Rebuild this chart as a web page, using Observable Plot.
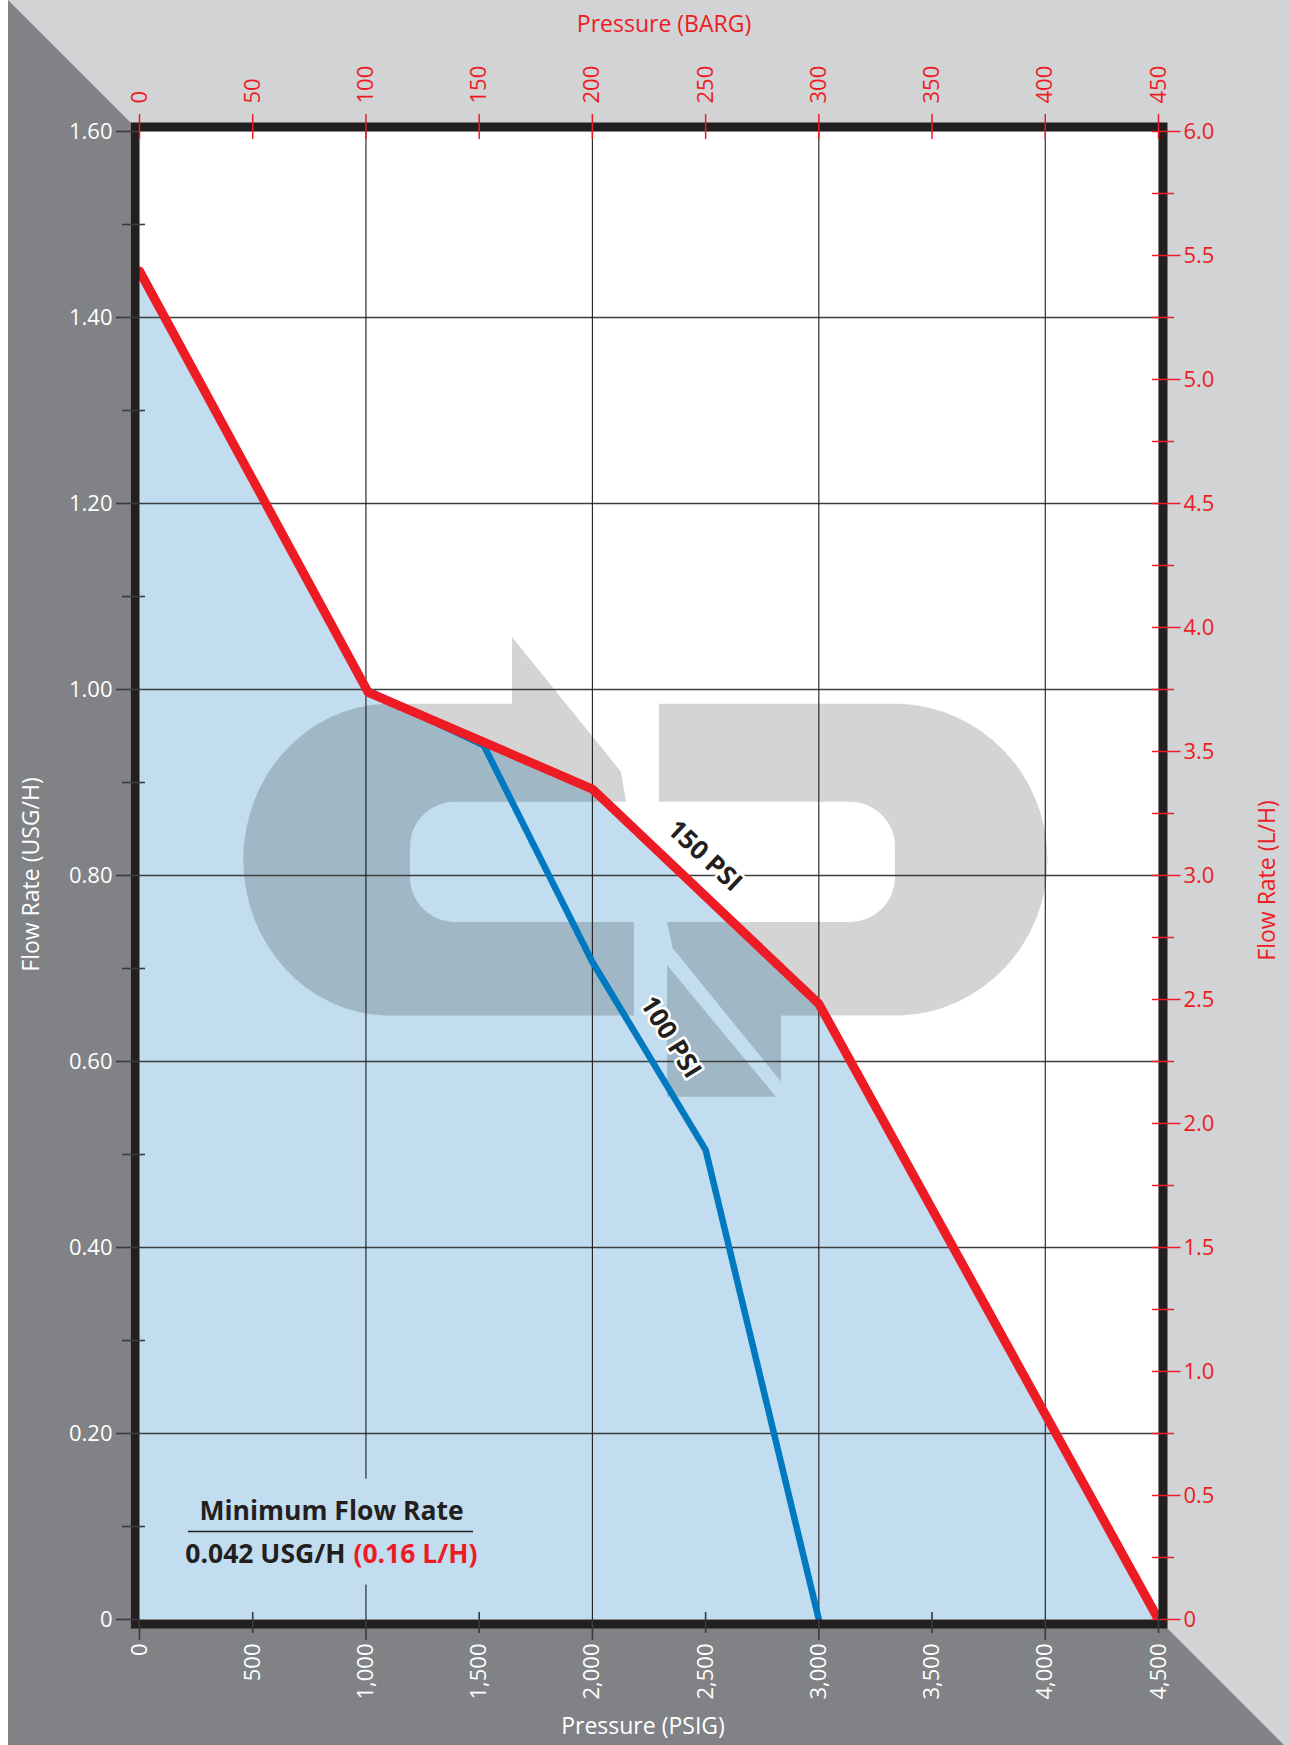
<!DOCTYPE html>
<html>
<head>
<meta charset="utf-8">
<script src="https://cdn.jsdelivr.net/npm/d3@7"></script>
<script src="https://cdn.jsdelivr.net/npm/@observablehq/plot@0.6"></script>
<style>
html, body { margin: 0; padding: 0; background: #fff; }
#chart svg { display: block; }
</style>
</head>
<body>
<div id="chart"></div>
<script>
// ---------------- data ----------------
const psi150 = [0, 1010, 2000, 3000, 4500];
const flow150 = [1.45, 0.997, 0.893, 0.662, 0];
const psi100 = [0, 1000, 1520, 2000, 2500, 3000];
const flow100 = [1.45, 1.0, 0.94, 0.707, 0.505, 0];

const psiTicks = [0, 500, 1000, 1500, 2000, 2500, 3000, 3500, 4000, 4500];
const psiGrid = [1000, 2000, 3000, 4000];
const bargTicks = [0, 50, 100, 150, 200, 250, 300, 350, 400, 450];
const usgTicks = [0, 0.2, 0.4, 0.6, 0.8, 1.0, 1.2, 1.4, 1.6];
const usgMinorTicks = [0.1, 0.3, 0.5, 0.7, 0.9, 1.1, 1.3, 1.5];
const usgGrid = [0.2, 0.4, 0.6, 0.8, 1.0, 1.2, 1.4];
const lphTicks = [0, 0.5, 1.0, 1.5, 2.0, 2.5, 3.0, 3.5, 4.0, 4.5, 5.0, 5.5, 6.0];
const lphMinorTicks = [0.25, 0.75, 1.25, 1.75, 2.25, 2.75, 3.25, 3.75, 4.25, 4.75, 5.25, 5.75];

const BARG_PER_PSI = 0.1;     // top axis: 450 BARG spans the same width as 4,500 PSIG
const LPH_PER_USGH = 3.75;    // right axis: 6.0 L/H spans the same height as 1.60 USG/H

const seriesLabels = ["150 PSI", "100 PSI"];
const labelPsi = [2495, 2345];
const labelFlow = [0.821, 0.626];
const labelAngle = [43, 58];

const minFlowTitle = "Minimum Flow Rate";
const minFlowUsg = "0.042 USG/H";
const minFlowLph = "(0.16 L/H)";

// ---------------- styles ----------------
const RED = "#ed1c24", BLUE = "#0079c1", AREA = "#c1ddef";
const DARK_BG = "#808285", LIGHT_BG = "#d1d3d4", INK = "#231f20", TICK = "#3a3a3a";
const FRAME_W = 9;

const red = psi150.map((p, i) => ({psi: p, flow: flow150[i]}));
const blue = psi100.map((p, i) => ({psi: p, flow: flow100[i]}));
const lineLabels = seriesLabels.map((t, i) => ({t, psi: labelPsi[i], flow: labelFlow[i], a: labelAngle[i]}));

// decorative background bevel (pixel layout, not data)
function bevel(index, scales, values, dim) {
  const {width, height, marginLeft, marginTop, marginRight, marginBottom} = dim;
  const L = marginLeft - FRAME_W, T = marginTop - FRAME_W;
  const R = width - marginRight + FRAME_W, B = height - marginBottom + FRAME_W;
  const g = d3.create("svg:g");
  g.append("rect").attr("width", width).attr("height", height).attr("fill", LIGHT_BG);
  g.append("path")
    .attr("d", `M${L - T},0L${L},${T}L${L},${B}L${R},${B}L${R + (height - B)},${height}L${L - T},${height}Z`)
    .attr("fill", DARK_BG);
  g.append("rect").attr("width", L - T).attr("height", height).attr("fill", "#fff");
  return g.node();
}

// decorative watermark logo
function logo() {
  const g = d3.create("svg:g").attr("fill", "#000").attr("fill-opacity", 0.17);
  g.append("path").attr("d",
    "M385,703.8L512,703.8L512,637L621,771.7L626,801.8L455,801.8A45,45,0,0,0,410,846.8L410,877A45,45,0,0,0,455,922L634,922L634,1015.6L385,1015.6A147,156,0,0,1,385,703.8Z");
  g.append("path").attr("d",
    "M659,703.8L900,703.8A153,156,0,0,1,900,1015.6L781,1015.6L781,1081.7L672.6,948L667,922L850,922A45,45,0,0,0,895,877L895,846.8A45,45,0,0,0,850,801.8L659,801.8Z");
  g.append("path").attr("d", "M667,965L667,1096.7L776,1096.7Z");
  return g.node();
}

const fmtUsg = d => d === 0 ? "0" : d.toFixed(2);
const fmtLph = d => { const v = d * LPH_PER_USGH; return Math.abs(v) < 1e-9 ? "0" : v.toFixed(1); };
const fmtPsi = d3.format(",");
const fmtBarg = d => String(Math.round(d * BARG_PER_PSI));

const psiMajor = psiTicks.filter(d => d % 1000 === 0 && d < 4500);
const psiOdd = psiTicks.filter(d => !(d % 1000 === 0 && d < 4500));

const chart = Plot.plot({
  width: 1289,
  height: 1745,
  marginLeft: 139,
  marginRight: 131,
  marginTop: 131,
  marginBottom: 126,
  x: {domain: [0, 4500]},
  y: {domain: [0, 1.6]},
  style: {fontFamily: "'Open Sans', sans-serif", fontSize: "22px", background: "none", overflow: "visible"},
  marks: [
    bevel,
    Plot.frame({fill: "#fff"}),
    Plot.areaY(red, {x: "psi", y: "flow", fill: AREA}),
    logo,
    Plot.ruleY(usgGrid, {stroke: "#3d3d3d", strokeWidth: 1.5}),
    Plot.ruleX(psiGrid, {stroke: "#1a1a1a", strokeWidth: 1.1}),
    Plot.rect([{}], {x1: 216, x2: 1475, y1: 0.037, y2: 0.151, fill: AREA}),
    Plot.line(blue, {x: "psi", y: "flow", stroke: BLUE, strokeWidth: 6.5, strokeLinejoin: "miter"}),
    Plot.line(red, {x: "psi", y: "flow", stroke: RED, strokeWidth: 9, strokeLinejoin: "miter"}),
    Plot.text(lineLabels, {x: "psi", y: "flow", text: "t", rotate: "a", fontWeight: "bold", fontSize: 26,
      fill: INK, stroke: "#fff", strokeWidth: 5}),
    // minimum flow annotation
    Plot.text([minFlowTitle], {x: () => 848, y: () => 0.116, text: d => d, fontWeight: "bold", fontSize: 26.5, fill: INK}),
    Plot.ruleY([0.0946], {x1: 216, x2: 1475, stroke: INK, strokeWidth: 1.6}),
    Plot.text([minFlowUsg], {x: () => 927, y: () => 0.07, text: d => d, textAnchor: "end", dx: -4, fontWeight: "bold", fontSize: 26.5, fill: INK}),
    Plot.text([minFlowLph], {x: () => 927, y: () => 0.07, text: d => d, textAnchor: "start", dx: 4, fontWeight: "bold", fontSize: 26.5, fill: RED}),
    // frame
    Plot.frame({stroke: INK, strokeWidth: FRAME_W, inset: -FRAME_W / 2}),
    // left axis (USG/H)
    Plot.axisY(usgTicks, {anchor: "left", tickSize: 23, fill: "none", stroke: TICK, strokeWidth: 1.6, label: null}),
    Plot.axisY(usgMinorTicks, {anchor: "left", tickSize: 23, dx: 6, fill: "none", stroke: TICK, strokeWidth: 1.6, label: null}),
    Plot.axisY(usgTicks, {anchor: "left", tickSize: 0, tickPadding: 27, tickFormat: fmtUsg, fill: "#fff", fontSize: 22, label: null}),
    // right axis (L/H)
    Plot.axisY(lphTicks.map(v => v / LPH_PER_USGH), {anchor: "right", tickSize: 28.5, dx: -7, fill: "none", stroke: RED, strokeWidth: 1.5, label: null}),
    Plot.axisY(lphMinorTicks.map(v => v / LPH_PER_USGH), {anchor: "right", tickSize: 22, dx: -7, fill: "none", stroke: RED, strokeWidth: 1.5, label: null}),
    Plot.axisY(lphTicks.map(v => v / LPH_PER_USGH), {anchor: "right", tickSize: 0, tickPadding: 25, tickFormat: fmtLph, fill: RED, fontSize: 22, label: null}),
    // bottom axis (PSIG)
    Plot.axisX(psiMajor, {anchor: "bottom", tickSize: 21, fill: "none", stroke: TICK, strokeWidth: 1.6, label: null}),
    Plot.axisX(psiOdd, {anchor: "bottom", tickSize: 21, dy: -7, fill: "none", stroke: TICK, strokeWidth: 1.6, label: null}),
    Plot.axisX(psiTicks, {anchor: "bottom", tickSize: 0, tickPadding: 24, tickRotate: -90, tickFormat: fmtPsi, fill: "#fff", fontSize: 22, label: null}),
    // top axis (BARG)
    Plot.axisX(bargTicks.map(b => b / BARG_PER_PSI), {anchor: "top", tickSize: 25, dy: 7, fill: "none", stroke: RED, strokeWidth: 1.5, label: null}),
    Plot.axisX(bargTicks.map(b => b / BARG_PER_PSI), {anchor: "top", tickSize: 0, tickPadding: 28, tickRotate: -90, tickFormat: fmtBarg, fill: RED, fontSize: 22, label: null}),
    // axis titles
    Plot.text(["Pressure (BARG)"], {frameAnchor: "top", textAnchor: "middle", dx: 15, dy: -116, fill: RED, fontSize: 23}),
    Plot.text(["Pressure (PSIG)"], {frameAnchor: "bottom", textAnchor: "middle", dx: -6, dy: 114, fill: "#fff", fontSize: 23}),
    Plot.text(["Flow Rate (USG/H)"], {frameAnchor: "left", textAnchor: "middle", dx: -108, dy: -1, rotate: -90, fill: "#fff", fontSize: 23}),
    Plot.text(["Flow Rate (L/H)"], {frameAnchor: "right", textAnchor: "middle", dx: 109, dy: 5, rotate: -90, fill: RED, fontSize: 23})
  ]
});

document.getElementById("chart").appendChild(chart);
</script>
</body>
</html>
